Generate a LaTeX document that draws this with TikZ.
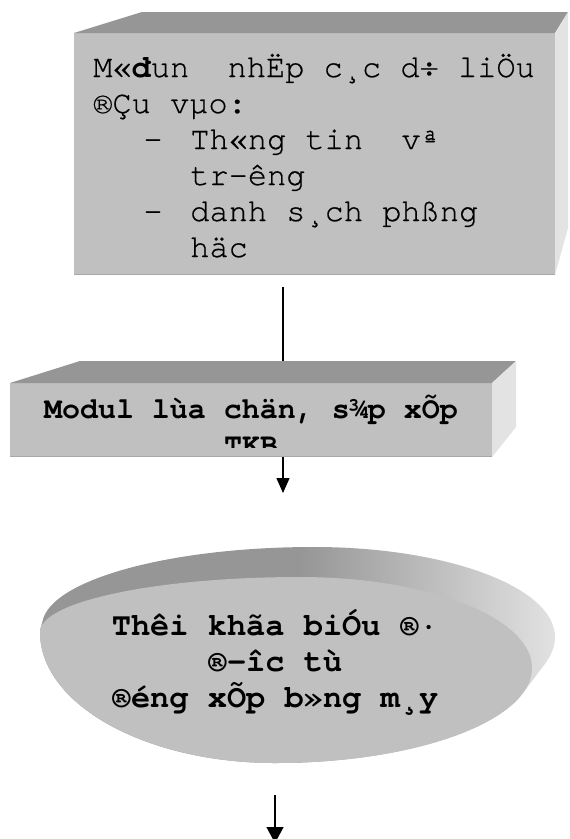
\documentclass[tikz,border=0pt]{standalone}
\usepackage{fontspec}
\newfontfamily\vnmono{TeX Gyre Cursor}
\newfontfamily\vnmonoplain[FakeBold=0.6]{TeX Gyre Cursor}
\usetikzlibrary{arrows.meta,calc}
\pgfdeclarelayer{background}
\pgfsetlayers{background,main}
\definecolor{frontgray}{HTML}{C0C0C0}
\definecolor{topgray}{HTML}{969696}
\definecolor{sidegray}{HTML}{E3E3E3}
\definecolor{edgegray}{HTML}{A8A8A8}

% closed oval outline at depth #1 (0 = back face, 1 = front face)
\newcommand\eggpath[1]{%
  ({egglx(#1)},{eggly(#1)})
  .. controls ({egglx(#1)},{eggly(#1)-0.5523*(eggly(#1)-eggty(#1))})
          and ({eggtx(#1)-0.5523*(eggtx(#1)-egglx(#1))},{eggty(#1)}) .. ({eggtx(#1)},{eggty(#1)})
  .. controls ({eggtx(#1)+0.5523*(eggrx(#1)-eggtx(#1))},{eggty(#1)})
          and ({eggrx(#1)},{eggry(#1)-0.5523*(eggry(#1)-eggty(#1))}) .. ({eggrx(#1)},{eggry(#1)})
  .. controls ({eggrx(#1)},{eggry(#1)+0.5523*(eggby(#1)-eggry(#1))})
          and ({eggbx(#1)+0.5523*(eggrx(#1)-eggbx(#1))},{eggby(#1)}) .. ({eggbx(#1)},{eggby(#1)})
  .. controls ({eggbx(#1)-0.5523*(eggbx(#1)-egglx(#1))},{eggby(#1)})
          and ({egglx(#1)},{eggly(#1)+0.5523*(eggby(#1)-eggly(#1))}) .. cycle}

\begin{document}
\begin{tikzpicture}[x=0.75pt,y=-0.75pt,
  declare function={
    egglx(\t)=42-2*\t;   eggly(\t)=626+6*\t;
    eggtx(\t)=314-14*\t; eggty(\t)=547+30*\t;
    eggrx(\t)=555-23*\t; eggry(\t)=637+31*\t;
    eggbx(\t)=290-15*\t; eggby(\t)=735+28*\t;
  },
  face/.style={inner sep=0pt,outer sep=0pt,draw=none,fill=frontgray},
  plaintext/.style={font=\vnmonoplain\fontsize{24pt}{28pt}\selectfont,inner sep=0pt,anchor=base west},
  boxtext/.style={font=\vnmono\bfseries\fontsize{22.5pt}{27pt}\selectfont,inner sep=0pt,anchor=base},
  ovaltext/.style={font=\vnmono\bfseries\fontsize{24pt}{28pt}\selectfont,inner sep=0pt,anchor=base},
  flow/.style={line width=1pt,-{Triangle[width=9.75pt,length=11.25pt]}},
  bigflow/.style={line width=1pt,-{Triangle[width=12.75pt,length=12pt]}}
]
\useasboundingbox (0,0) rectangle (569,839);
\begin{pgfonlayer}{background}
  \fill[white] (0,0) rectangle (569,839);
\end{pgfonlayer}

% ---------- input module: extruded box ----------
\node[face,rectangle,minimum width=360.75pt,minimum height=181.5pt] (topf) at (314.5,154) {};
\fill[topgray] (topf.north west) -- (topf.north east) -- ++(13,-21)
  -- ($(topf.north west)+(68,-21)$) -- cycle;
\fill[sidegray] (topf.north east) -- ++(13,-21) -- ($(topf.south east)+(13,-47)$)
  -- (topf.south east) -- cycle;
\draw[edgegray,line width=1pt] ($(topf.south west)+(0,-0.7)$) -- ($(topf.south east)+(0,-0.7)$);

\node[plaintext] (t1) at (93,77)  {M«{\vnmono\bfseries đ}un\ \ nhËp c¸c d÷ liÖu};
\node[plaintext] (t2) at (93,113) {®Çu vµo:};
\node[plaintext,anchor=base] (d1) at (153,149) {-};
\node[plaintext] (t3) at (190,149) {Th«ng tin\ \ vª};
\node[plaintext] (t4) at (190,185) {tr-êng};
\node[plaintext,anchor=base] (d2) at (153,221) {-};
\node[plaintext] (t5) at (190,221) {danh s¸ch phßng};
\node[plaintext] (t6) at (190,257) {häc};

% ---------- selection / scheduling module ----------
\node[face,rectangle,minimum width=361.5pt,minimum height=55.5pt] (midf) at (251,420) {};
\fill[topgray] (midf.north west) -- (midf.north east) -- ++(24,-22)
  -- ($(midf.north west)+(70,-22)$) -- cycle;
\fill[sidegray] (midf.north east) -- ++(24,-22) -- ($(midf.south east)+(24,-30)$)
  -- (midf.south east) -- cycle;
\draw[edgegray,line width=1pt] ($(midf.south west)+(0,-0.7)$) -- ($(midf.south east)+(0,-0.7)$);

\begin{scope}
  \clip (10,383) rectangle (492,447);
  \node[boxtext] (m1) at (251,418) {Modul lùa chän, s¾p xÕp};
  \node[boxtext] (m2) at (251,454) {TKB};
\end{scope}

% ---------- result: extruded oval ----------
\begin{scope}
  % the solid swept from the back outline to the front outline
  \clip \foreach \i in {0,...,20} { \eggpath{\i/20} };
  \fill[topgray] (20,530) rectangle (300,780);
  \shade[left color=topgray,right color=sidegray] (300,530) rectangle (560,780);
\end{scope}
\fill[frontgray] \eggpath{1};

\node[ovaltext] (e1) at (275,635) {Thêi khãa biÓu ®·};
\node[ovaltext] (e2) at (275,671) {®-îc tù};
\node[ovaltext] (e3) at (275,707) {®éng xÕp b»ng m¸y};

% ---------- connectors ----------
\coordinate (axis) at (283,0);
\coordinate (c2) at (283,493);
\coordinate (c3a) at (275,795);
\coordinate (c3b) at (275,843);
\begin{pgfonlayer}{background}
  \draw[flow] ($(topf.south -| axis)+(0,12)$) -- (midf.north -| axis);
  \draw[flow] (midf.south -| axis) -- (c2);
  \draw[bigflow] (c3a) -- (c3b);
\end{pgfonlayer}
\end{tikzpicture}
\end{document}
